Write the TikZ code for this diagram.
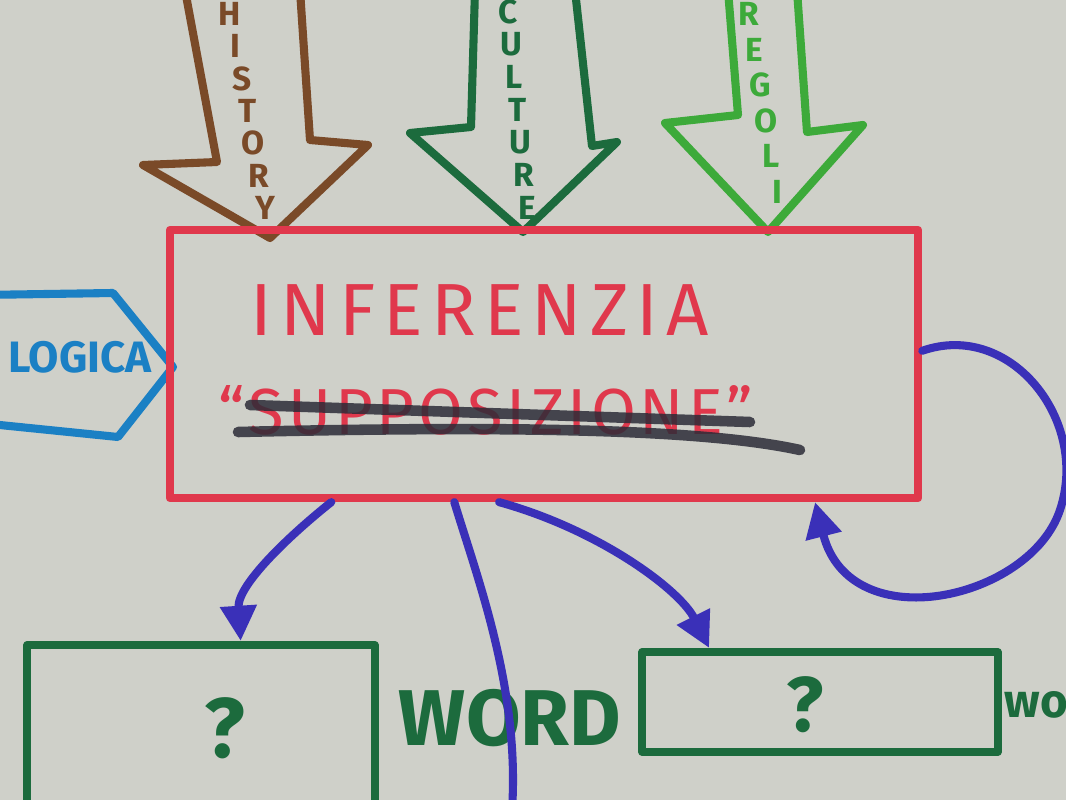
\documentclass[tikz,border=0pt]{standalone}
\usepackage{fontspec}
\setmainfont{Fira Sans}
\usetikzlibrary{arrows.meta,positioning}
\definecolor{paper}{HTML}{CFD0C9}
\definecolor{redpen}{HTML}{E0384C}
\definecolor{brownpen}{HTML}{7A4A28}
\definecolor{darkgreen}{HTML}{1C6B3D}
\definecolor{lightgreen}{HTML}{3DAA3A}
\definecolor{bluepen}{HTML}{1B80C4}
\definecolor{linkblue}{HTML}{3A30B8}
\definecolor{blackpen}{HTML}{2C2C38}
\tikzset{
  marker/.style={line width=2.3pt, line cap=round, line join=round},
  penbox/.style={marker, draw, rectangle, inner sep=0pt},
  link/.style={marker, draw=linkblue, -{Triangle[length=10pt,width=10pt]}},
  letter/.style={inner sep=0pt, font=\fontsize{9.5}{11}\selectfont\bfseries},
  bigred/.style={text=redpen, font=\fontsize{21}{24}\selectfont\addfontfeature{LetterSpace=11}},
}
\begin{document}
\begin{tikzpicture}[x=0.01cm, y=-0.01cm]
\fill[paper] (0,0) rectangle (1066,800);
\clip (0,0) rectangle (1066,800);

% arrows coming in from the top
\draw[marker, brownpen] (185,-10) -- (217,162) -- (143,165) -- (270,238)
  -- (368,145) -- (310,140) -- (300,-10);
\foreach \l [count=\i] in {H,I,S,T,O,R,Y}
  \node[letter, text=brownpen] (history-\i) at ({230+35*(\i-1)/6},{14+194*(\i-1)/6}) {\l};

\draw[marker, darkgreen] (475,-10) -- (471,127) -- (410,133) -- (523,232)
  -- (617,142) -- (592,146) -- (575,-10);
\foreach \l [count=\i] in {C,U,L,T,U,R,E}
  \node[letter, text=darkgreen] (culture-\i) at ({508+19*(\i-1)/6},{12+196*(\i-1)/6}) {\l};

\draw[marker, lightgreen] (728,-10) -- (738,115) -- (665,123) -- (768,232)
  -- (863,125) -- (807,132) -- (797,-10);
\foreach \l [count=\i] in {R,E,G,O,L,I}
  \node[letter, text=lightgreen] (regoli-\i) at ({749+28*(\i-1)/5},{14+178*(\i-1)/5}) {\l};

% logica, from the left
\draw[marker, bluepen] (-20,295) -- (113,293) -- (173,367) -- (118,437) -- (-20,423);
\node[text=bluepen, font=\fontsize{12.5}{14}\selectfont\bfseries] (logica) at (80,357) {LOGICA};

% main box
\node[penbox, draw=redpen, minimum width=7.48cm, minimum height=2.68cm] (inf) at (544,364) {};
\node[bigred] (inferenzia) at (480,310) {INFERENZIA};
\node[text=redpen, font=\fontsize{18.5}{22}\selectfont\addfontfeature{LetterSpace=6}] (supp) at (486,410) {``SUPPOSIZIONE''};
\draw[marker, blackpen, line width=3pt, opacity=.85] (250,405) -- (750,422);
\draw[marker, blackpen, line width=3pt, opacity=.85] (238,432) .. controls (500,426) and (700,428) .. (800,450);

% boxes at the bottom
\node[penbox, draw=darkgreen, minimum width=3.47cm, minimum height=1.7cm] (askleft) at (201,730) {};
\node[text=darkgreen, font=\fontsize{24}{26}\selectfont\bfseries] (qleft) at (225,728) {?};
\node[penbox, draw=darkgreen, minimum width=3.55cm, minimum height=1.0cm] (askright) at (820,702) {};
\node[text=darkgreen, font=\fontsize{22}{26}\selectfont\bfseries] (qright) at (805,705) {?};
\node[text=darkgreen, font=\fontsize{22.5}{26}\selectfont\bfseries] (wordleft) at (510,718) {WORD};
\node[text=darkgreen, font=\fontsize{13.5}{16}\selectfont\bfseries, anchor=west, inner sep=0pt] (wordright) at (1004,705) {wo};

% blue links
\draw[link] (inf.-147) .. controls (290,535) and (237,585) .. (askleft.66);
\draw[link] (inf.-108) .. controls (600,530) and (680,590) .. (askright.154);
\draw[link] (inf.2) .. controls (1010,320) and (1090,420) .. (1060,510)
  .. controls (1030,600) and (850,640) .. (inf.-27);
\coordinate (cutoff) at (512,810);
\draw[marker, linkblue] (inf.-123) .. controls (478,580) and (520,690) .. (cutoff);
\end{tikzpicture}
\end{document}
